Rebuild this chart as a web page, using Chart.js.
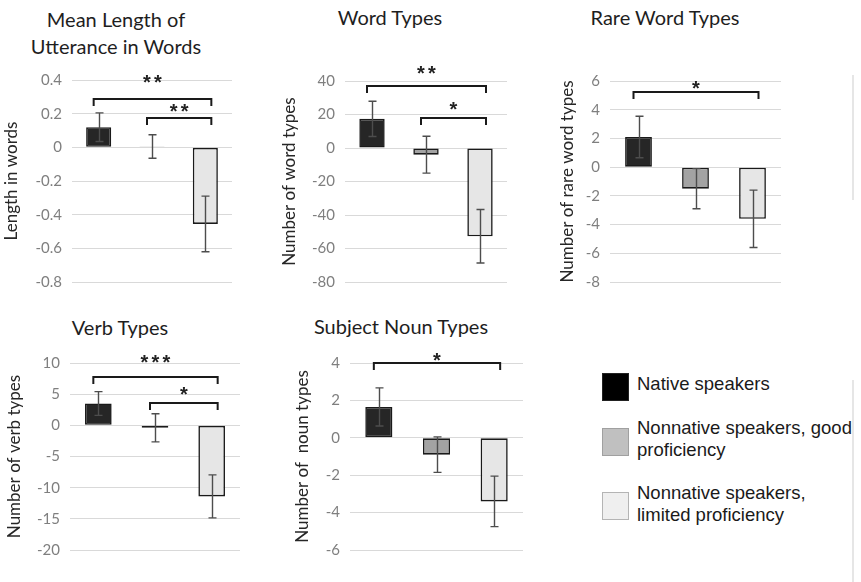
<!DOCTYPE html>
<html><head><meta charset="utf-8">
<script src="https://cdn.jsdelivr.net/npm/chart.js@4/dist/chart.umd.min.js"></script>
<style>
html,body{margin:0;padding:0;background:#fff}
body{width:861px;height:582px;overflow:hidden;position:relative;font-family:Lato,sans-serif}
canvas{position:absolute}
.title{position:absolute;width:260px;text-align:center;font-family:Lato,sans-serif;font-size:20px;line-height:27px;color:#1e1e1e;white-space:nowrap}
.leg{position:absolute;left:602px;font-family:"Liberation Sans",Arial,sans-serif;font-size:18.5px;line-height:21.5px;color:#1a1a1a;white-space:nowrap}
.sw{position:absolute;left:0;box-sizing:border-box}
.lt{position:absolute;left:35px}
.edge{position:absolute;left:852px;width:2px;background:#e6e6e6}
</style></head>
<body>
<div class="title" style="left:-14px;top:6px">Mean Length of<br>Utterance in Words</div>
<div class="title" style="left:260px;top:4px">Word Types</div>
<div class="title" style="left:535px;top:4px">Rare Word Types</div>
<div class="title" style="left:-10px;top:314px">Verb Types</div>
<div class="title" style="left:271px;top:313px">Subject Noun Types</div>

<div class="edge" style="top:75px;height:125px"></div>
<div class="edge" style="top:380px;height:202px"></div>

<div id="legend"></div>

<canvas id="c1"></canvas><canvas id="c2"></canvas><canvas id="c3"></canvas><canvas id="c4"></canvas><canvas id="c5"></canvas>

<script>
// ---- data ----
const groups = ['Native speakers', 'Nonnative speakers, good proficiency', 'Nonnative speakers, limited proficiency'];
const legendLines = [['Native speakers'], ['Nonnative speakers, good', 'proficiency'], ['Nonnative speakers,', 'limited proficiency']];

const mluValues = [0.12, 0.005, -0.455];
const mluErrors = [0.085, 0.07, 0.165];
const mluTicks = [0.4, 0.2, 0, -0.2, -0.4, -0.6, -0.8];
const mluTickLabels = ['0.4', '0.2', '0', '-0.2', '-0.4', '-0.6', '-0.8'];
// [from group, to group, bracket level, label, label level]
const mluBrackets = [[0, 2, 0.29, '**', 0.406], [1, 2, 0.175, '**', 0.233]];

const wordValues = [17.4, -4, -52.7];
const wordErrors = [10.5, 11, 16];
const wordTicks = [40, 20, 0, -20, -40, -60, -80];
const wordBrackets = [[0, 2, 37, '**', 46.6], [1, 2, 18, '*', 25]];

const rareValues = [2.1, -1.5, -3.6];
const rareErrors = [1.45, 1.4, 2.0];
const rareTicks = [6, 4, 2, 0, -2, -4, -6, -8];
const rareBrackets = [[0, 2, 5.2, '*', 5.7]];

const verbValues = [3.5, -0.4, -11.4];
const verbErrors = [1.9, 2.25, 3.45];
const verbTicks = [10, 5, 0, -5, -10, -15, -20];
const verbBrackets = [[0, 2, 7.75, '***', 10.6], [1, 2, 3.6, '*', 5.5]];

const nounValues = [1.65, -0.9, -3.4];
const nounErrors = [1.02, 0.95, 1.35];
const nounTicks = [4, 2, 0, -2, -4, -6];
const nounBrackets = [[0, 2, 4.0, '*', 4.3]];

// ---- styles ----
const barFills = ['#262626', '#a3a3a3', '#e6e6e6'];
const legendFills = ['#000000', '#c0c0c0', '#efefef'];
const legendBorders = ['#222222', '#a0a0a0', '#b4b4b4'];

// legend (HTML)
const legTops = [373, 428, 492];
const legTextTops = [373, 417, 482];
const lg = document.getElementById('legend');
groups.forEach((g, i) => {
  const d = document.createElement('div');
  d.className = 'leg';
  d.style.top = legTops[i] + 'px';
  d.innerHTML = `<div class="sw" style="width:27px;height:28px;background:${legendFills[i]};border:1.5px solid ${legendBorders[i]}"></div>` +
    `<div class="lt" style="top:${legTextTops[i] - legTops[i]}px">${legendLines[i].join('<br>')}</div>`;
  lg.appendChild(d);
});

const annot = {
  id: 'annot',
  afterDatasetsDraw(chart) {
    const o = chart.options.plugins.annot;
    const { ctx } = chart;
    const y = chart.scales.y;
    const meta = chart.getDatasetMeta(0);
    const vals = chart.data.datasets[0].data;
    ctx.save();
    ctx.strokeStyle = '#4d4d4d';
    ctx.lineWidth = 1.4;
    meta.data.forEach((bar, i) => {
      const xc = Math.round(bar.x) + 0.5;
      const yt = y.getPixelForValue(vals[i] + o.errors[i]);
      const yb = y.getPixelForValue(vals[i] - o.errors[i]);
      ctx.beginPath();
      ctx.moveTo(xc, yt); ctx.lineTo(xc, yb);
      ctx.moveTo(xc - 4, yt); ctx.lineTo(xc + 4, yt);
      ctx.moveTo(xc - 4, yb); ctx.lineTo(xc + 4, yb);
      ctx.stroke();
    });
    ctx.strokeStyle = '#1a1a1a';
    ctx.fillStyle = '#222222';
    ctx.lineWidth = 2;
    ctx.font = 'bold 20px "Liberation Sans"';
    ctx.textAlign = 'center';
    ctx.textBaseline = 'alphabetic';
    o.brackets.forEach(([a, b, v, lab, lv]) => {
      const x1 = meta.data[a].x - 5, x2 = meta.data[b].x + 6;
      const yy = Math.round(y.getPixelForValue(v));
      ctx.beginPath();
      ctx.moveTo(x1, yy + 7); ctx.lineTo(x1, yy); ctx.lineTo(x2, yy); ctx.lineTo(x2, yy + 7);
      ctx.stroke();
      const m = ctx.measureText('*');
      const ly = y.getPixelForValue(lv) + (m.actualBoundingBoxAscent - m.actualBoundingBoxDescent) / 2;
      const n = lab.length, gap = 11;
      const cx = (x1 + x2) / 2;
      for (let k = 0; k < n; k++) {
        ctx.fillText(lab[k], cx + (k - (n - 1) / 2) * gap, ly);
      }
    });
    ctx.restore();
  }
};

function makeChart(id, cfg) {
  const cv = document.getElementById(id);
  const padB = 24;
  const w = cfg.area.r - cfg.left + 8;
  const h = cfg.area.b - cfg.top + padB;
  cv.width = w; cv.height = h;
  cv.style.left = cfg.left + 'px'; cv.style.top = cfg.top + 'px';
  cv.style.width = w + 'px'; cv.style.height = h + 'px';
  const ticks = cfg.ticks;
  new Chart(cv, {
    type: 'bar',
    data: {
      labels: groups,
      datasets: [{
        data: cfg.values,
        backgroundColor: barFills,
        borderColor: '#1a1a1a',
        borderWidth: 1.6,
        borderSkipped: false,
        barPercentage: 0.47,
        categoryPercentage: 1
      }]
    },
    options: {
      responsive: false,
      animation: false,
      devicePixelRatio: 1,
      layout: { padding: { left: 0, right: 8, top: cfg.area.t - cfg.top, bottom: padB } },
      plugins: { legend: { display: false }, tooltip: { enabled: false },
        annot: { errors: cfg.errors, brackets: cfg.brackets } },
      scales: {
        x: { display: false },
        y: {
          min: Math.min(...ticks), max: Math.max(...ticks),
          afterBuildTicks: s => { s.ticks = ticks.map(v => ({ value: v })); },
          afterFit: s => { s.width = cfg.area.l - cfg.left; },
          ticks: {
            padding: 10,
            color: '#7f7f7f',
            font: { family: 'Lato', size: 15 },
            callback: (v) => cfg.labels ? cfg.labels[ticks.indexOf(v)] : String(v)
          },
          grid: { color: '#d9d9d9', lineWidth: 1, drawTicks: false },
          border: { display: false },
          title: { display: true, text: cfg.title, color: '#262626',
            font: { family: 'Lato', size: 17 }, padding: { top: 1, bottom: 0 } }
        }
      }
    },
    plugins: [annot]
  });
}

makeChart('c1', { left: 0, top: 0, area: { l: 72, t: 80, r: 232, b: 282 }, values: mluValues, errors: mluErrors,
  ticks: mluTicks, labels: mluTickLabels, brackets: mluBrackets, title: 'Length in words' });
makeChart('c2', { left: 278, top: 0, area: { l: 345, t: 81, r: 507, b: 282 }, values: wordValues, errors: wordErrors,
  ticks: wordTicks, brackets: wordBrackets, title: 'Number of word types' });
makeChart('c3', { left: 556, top: 0, area: { l: 610, t: 81, r: 781, b: 282 }, values: rareValues, errors: rareErrors,
  ticks: rareTicks, brackets: rareBrackets, title: 'Number of rare word types' });
makeChart('c4', { left: 3, top: 290, area: { l: 70, t: 363, r: 240, b: 550 }, values: verbValues, errors: verbErrors,
  ticks: verbTicks, brackets: verbBrackets, title: 'Number of verb types' });
makeChart('c5', { left: 291, top: 290, area: { l: 350, t: 363, r: 523, b: 550 }, values: nounValues, errors: nounErrors,
  ticks: nounTicks, brackets: nounBrackets, title: 'Number of  noun types' });
</script>
</body></html>
